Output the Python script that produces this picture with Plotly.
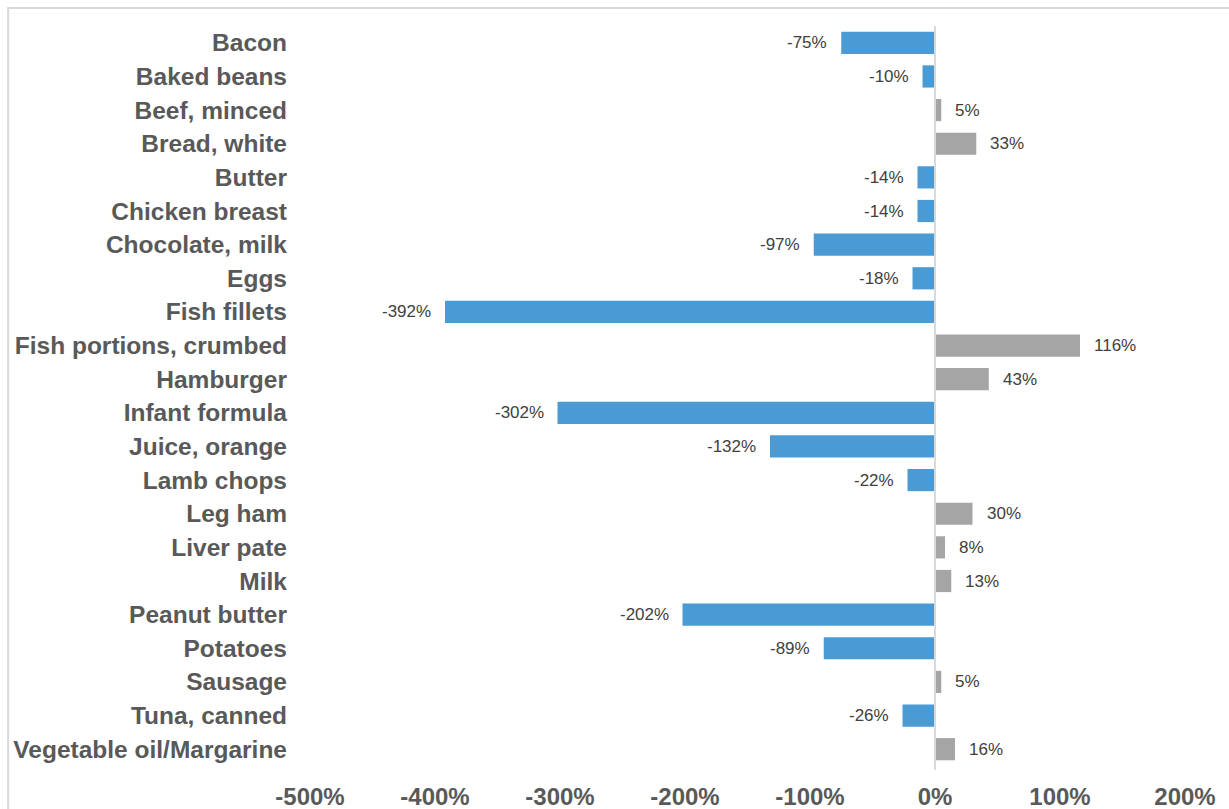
import plotly.graph_objects as go

categories = ["Bacon", "Baked beans", "Beef, minced", "Bread, white", "Butter",
              "Chicken breast", "Chocolate, milk", "Eggs", "Fish fillets",
              "Fish portions, crumbed", "Hamburger", "Infant formula",
              "Juice, orange", "Lamb chops", "Leg ham", "Liver pate", "Milk",
              "Peanut butter", "Potatoes", "Sausage", "Tuna, canned",
              "Vegetable oil/Margarine"]
values = [-75, -10, 5, 33, -14, -14, -97, -18, -392, 116, 43, -302, -132, -22,
          30, 8, 13, -202, -89, 5, -26, 16]
tick_vals = [-500, -400, -300, -200, -100, 0, 100, 200]
tick_text = ["-500%", "-400%", "-300%", "-200%", "-100%", "0%", "100%", "200%"]

colors = ["#4A9AD4" if v < 0 else "#A5A5A5" for v in values]
labels = [f"{v}%" for v in values]

fig = go.Figure()
fig.add_trace(go.Bar(
    x=values, y=categories, orientation="h",
    marker=dict(color=colors, line=dict(width=0)),
    width=0.66,
    hoverinfo="x+y",
))

for c, v, t in zip(categories, values, labels):
    fig.add_annotation(
        x=v, y=c, xref="x", yref="y", text=t, showarrow=False,
        xanchor="right" if v < 0 else "left",
        xshift=-12 if v < 0 else 12,
        font=dict(family="Liberation Sans, Arial", size=17, color="#404040"),
    )

fig.add_shape(type="line", xref="x", yref="paper", x0=0, x1=0, y0=-0.005, y1=1.0,
              line=dict(color="#D9D9D9", width=2), layer="above")
fig.add_shape(type="rect", xref="paper", yref="paper",
              x0=-0.345, x1=1.2, y0=-0.2, y1=1.0243,
              line=dict(color="#D9D9D9", width=2))

fig.update_layout(
    width=1229, height=809,
    margin=dict(l=310, r=44, t=26, b=43),
    paper_bgcolor="white", plot_bgcolor="white",
    showlegend=False,
    xaxis=dict(range=[-500, 200], tickvals=tick_vals, ticktext=tick_text,
               showgrid=False, zeroline=False, showline=False, automargin=False,
               ticklabelstandoff=14,
               tickfont=dict(family="Liberation Sans, Arial",
                             size=24, color="#595959", weight="bold")),
    yaxis=dict(autorange="reversed", showgrid=False, zeroline=False, showline=False,
               automargin=False,
               ticklabelstandoff=22,
               tickfont=dict(family="Liberation Sans, Arial", size=24.5, color="#595959",
                             weight="bold")),
)

fig.write_html("out.html")
